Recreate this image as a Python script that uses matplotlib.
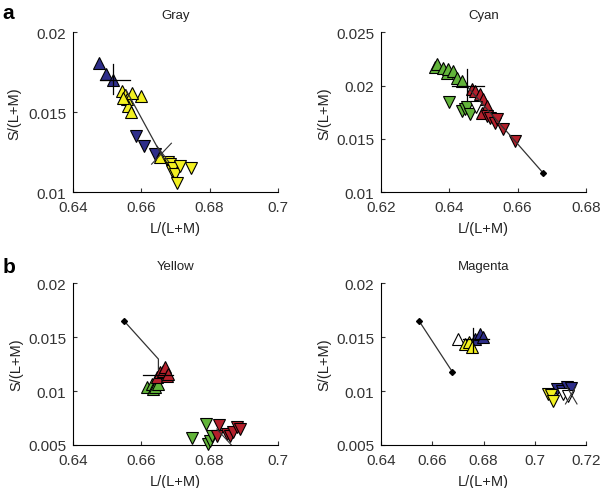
import matplotlib.pyplot as plt
from matplotlib.ticker import FuncFormatter

plt.rcParams['font.family'] = ['Liberation Sans', 'DejaVu Sans']

NAVY = '#2e2e8a'
YELLOW = '#f2f020'
GREEN = '#62b43a'
RED = '#b4202c'

## Gray panel
gray_navy_up_x = [0.6477, 0.6496, 0.6518]
gray_navy_up_y = [0.0181, 0.0174, 0.0170]
gray_navy_dn_x = [0.6584, 0.6609, 0.6640]
gray_navy_dn_y = [0.01352, 0.0129, 0.01238]
gray_yel_up_x = [0.6543, 0.6552, 0.6557, 0.6562, 0.6569, 0.6599, 0.6572, 0.6547, 0.6655]
gray_yel_up_y = [0.01633, 0.0161, 0.0158, 0.01536, 0.0150, 0.0160, 0.01623, 0.0159, 0.0122]
gray_yel_dn_x = [0.6679, 0.6684, 0.6689, 0.6694, 0.6699, 0.6703, 0.6713, 0.6745]
gray_yel_dn_y = [0.01186, 0.01175, 0.01133, 0.01154, 0.01113, 0.0106, 0.01164, 0.01148]
gray_line_x = [0.6555, 0.6665]
gray_line_y = [0.0164, 0.0121]
gray_cross = (0.6518, 0.0170, 0.6479, 0.6567, 0.01613, 0.0180)
gray_diag = [([0.6630, 0.6688], [0.01175, 0.01306]), ([0.6645, 0.6680], [0.01290, 0.01190])]

## Cyan panel
cyan_grn_up_x = [0.6358, 0.6365, 0.6382, 0.6392, 0.6397, 0.6412, 0.6422, 0.6436]
cyan_grn_up_y = [0.0217, 0.0220, 0.02169, 0.02122, 0.02153, 0.02137, 0.02075, 0.02044]
cyan_grn_dn_x = [0.6399, 0.6436, 0.6446, 0.6453, 0.6460]
cyan_grn_dn_y = [0.01847, 0.01763, 0.01778, 0.01803, 0.01731]
cyan_red_up_x = [0.6465, 0.6475, 0.6490, 0.6499, 0.6509, 0.6495]
cyan_red_up_y = [0.01966, 0.01950, 0.01919, 0.01872, 0.01809, 0.01747]
cyan_red_dn_x = [0.6509, 0.6519, 0.6534, 0.6539, 0.6558, 0.6592]
cyan_red_dn_y = [0.01716, 0.0170, 0.01653, 0.01684, 0.01591, 0.01481]
cyan_wht_x = [0.6478]
cyan_wht_y = [0.01800]
cyan_line_x = [0.6451, 0.6675]
cyan_line_y = [0.01996, 0.01178]
cyan_cross = (0.6451, 0.01996, 0.6407, 0.6500, 0.01856, 0.02153)

## Yellow panel
yel_line_x = [0.6549, 0.6650, 0.6650]
yel_line_y = [0.01651, 0.01296, 0.01200]
yel_grn_up_x = [0.6617, 0.6630, 0.6635, 0.6640, 0.6650]
yel_grn_up_y = [0.0104, 0.01065, 0.01019, 0.01034, 0.01065]
yel_red_up_x = [0.6645, 0.6655, 0.6664, 0.6669, 0.6674, 0.6679]
yel_red_up_y = [0.01127, 0.01173, 0.01188, 0.01219, 0.01142, 0.01157]
yel_grn_dn_x = [0.6749, 0.6788, 0.6796, 0.6801, 0.6806]
yel_grn_dn_y = [0.00565, 0.00694, 0.0051, 0.0054, 0.00586]
yel_red_dn_x = [0.6821, 0.6828, 0.6850, 0.6860, 0.6869, 0.6879, 0.6889]
yel_red_dn_y = [0.00586, 0.00688, 0.00602, 0.00586, 0.00617, 0.00664, 0.00648]
yel_hbar = (0.01148, 0.6604, 0.6694)
yel_diag = ([0.6821, 0.6865], [0.00648, 0.00495])

## Magenta panel
mag_line_x = [0.6548, 0.6678]
mag_line_y = [0.01651, 0.01179]
mag_wht_up_x = [0.6702]
mag_wht_up_y = [0.01481]
mag_navy_up_x = [0.6767, 0.6786, 0.6799]
mag_navy_up_y = [0.01481, 0.01528, 0.01497]
mag_yel_up_x = [0.6728, 0.6745, 0.6754]
mag_yel_up_y = [0.01435, 0.01455, 0.01405]
mag_cross = (0.6760, 0.01480, 0.6719, 0.6823, 0.01361, 0.01588)
mag_navy_dn_x = [0.7086, 0.7105, 0.7125, 0.7140]
mag_navy_dn_y = [0.01019, 0.01003, 0.01034, 0.01030]
mag_yel_dn_x = [0.7053, 0.7065, 0.7073]
mag_yel_dn_y = [0.00972, 0.00960, 0.0091]
mag_wht_dn_x = [0.7111, 0.7131]
mag_wht_dn_y = [0.00972, 0.00956]
mag_diag = [([0.7120, 0.7160], [0.00880, 0.01040]), ([0.7125, 0.7165], [0.01040, 0.00880])]

fig = plt.figure(figsize=(6.01, 4.89), dpi=100)
ax_gray = fig.add_axes([0.1215, 0.605, 0.341, 0.327])
ax_cyan = fig.add_axes([0.634, 0.605, 0.341, 0.327])
ax_yel = fig.add_axes([0.1215, 0.088, 0.341, 0.331])
ax_mag = fig.add_axes([0.634, 0.088, 0.341, 0.331])

MS = 8.5


def tri(ax, x, y, up, color):
    ax.plot(x, y, '^' if up else 'v', ms=MS, mfc=color, mec='black', mew=0.8,
            ls='none', clip_on=False, zorder=3)


def cross(ax, c):
    x, y, x0, x1, y0, y1 = c
    ax.plot([x0, x1], [y, y], color='black', lw=0.9, zorder=4)
    ax.plot([x, x], [y0, y1], color='black', lw=0.9, zorder=4)


def style(ax, title, xlim, ylim, xt, yt, ylpad):
    ax.set_xlim(*xlim)
    ax.set_ylim(*ylim)
    ax.set_xticks(xt)
    ax.set_yticks(yt)
    fmt = FuncFormatter(lambda v, p: ('%g' % round(v, 4)))
    ax.xaxis.set_major_formatter(fmt)
    ax.yaxis.set_major_formatter(fmt)
    for s in ['top', 'right']:
        ax.spines[s].set_visible(False)
    for s in ['left', 'bottom']:
        ax.spines[s].set_linewidth(0.8)
    ax.tick_params(direction='in', length=3, labelsize=11, colors='#333333')
    ax.tick_params(axis='x', pad=6)
    ax.tick_params(axis='y', pad=5)
    ax.set_title(title, fontsize=9.5, pad=10, color='#222222')
    ax.set_xlabel('L/(L+M)', fontsize=10.5, labelpad=5, color='#222222')
    ax.set_ylabel('S/(L+M)', fontsize=10.5, labelpad=ylpad, color='#222222')


# Gray
tri(ax_gray, gray_yel_up_x, gray_yel_up_y, True, YELLOW)
tri(ax_gray, gray_yel_dn_x, gray_yel_dn_y, False, YELLOW)
tri(ax_gray, gray_navy_up_x, gray_navy_up_y, True, NAVY)
tri(ax_gray, gray_navy_dn_x, gray_navy_dn_y, False, NAVY)
ax_gray.plot(gray_line_x, gray_line_y, color='#333333', lw=0.9, zorder=4)
cross(ax_gray, gray_cross)
for xs, ys in gray_diag:
    ax_gray.plot(xs, ys, color='#333333', lw=0.8, zorder=4)
style(ax_gray, 'Gray', (0.64, 0.70), (0.01, 0.02), [0.64, 0.66, 0.68, 0.70], [0.01, 0.015, 0.02], 5)

# Cyan
tri(ax_cyan, cyan_grn_up_x, cyan_grn_up_y, True, GREEN)
tri(ax_cyan, cyan_grn_dn_x, cyan_grn_dn_y, False, GREEN)
tri(ax_cyan, cyan_red_up_x, cyan_red_up_y, True, RED)
tri(ax_cyan, cyan_wht_x, cyan_wht_y, False, 'white')
tri(ax_cyan, cyan_red_dn_x, cyan_red_dn_y, False, RED)
ax_cyan.plot(cyan_line_x, cyan_line_y, color='#333333', lw=0.9, zorder=4)
ax_cyan.plot(cyan_line_x[-1:], cyan_line_y[-1:], 'D', ms=3, color='black', zorder=5)
cross(ax_cyan, cyan_cross)
style(ax_cyan, 'Cyan', (0.62, 0.68), (0.01, 0.025), [0.62, 0.64, 0.66, 0.68], [0.01, 0.015, 0.02, 0.025], 3)

# Yellow
tri(ax_yel, yel_grn_up_x, yel_grn_up_y, True, GREEN)
tri(ax_yel, yel_red_up_x, yel_red_up_y, True, RED)
tri(ax_yel, yel_grn_dn_x, yel_grn_dn_y, False, GREEN)
tri(ax_yel, yel_red_dn_x, yel_red_dn_y, False, RED)
ax_yel.plot(yel_line_x, yel_line_y, color='#333333', lw=0.9, zorder=4)
ax_yel.plot(yel_line_x[:1], yel_line_y[:1], 'D', ms=3, color='black', zorder=5)
ax_yel.plot([yel_hbar[1], yel_hbar[2]], [yel_hbar[0]] * 2, color='black', lw=0.9, zorder=4)
ax_yel.plot(*yel_diag, color='#333333', lw=0.8, zorder=4)
style(ax_yel, 'Yellow', (0.64, 0.70), (0.005, 0.02), [0.64, 0.66, 0.68, 0.70], [0.005, 0.01, 0.015, 0.02], 3)

# Magenta
ax_mag.plot(mag_line_x, mag_line_y, color='#333333', lw=0.9, marker='D', ms=3, mfc='black', mec='black', zorder=4)
tri(ax_mag, mag_wht_up_x, mag_wht_up_y, True, 'white')
tri(ax_mag, mag_navy_up_x, mag_navy_up_y, True, NAVY)
tri(ax_mag, mag_yel_up_x, mag_yel_up_y, True, YELLOW)
cross(ax_mag, mag_cross)
tri(ax_mag, mag_navy_dn_x, mag_navy_dn_y, False, NAVY)
tri(ax_mag, mag_yel_dn_x, mag_yel_dn_y, False, YELLOW)
tri(ax_mag, mag_wht_dn_x, mag_wht_dn_y, False, 'white')
for xs, ys in mag_diag:
    ax_mag.plot(xs, ys, color='#333333', lw=0.8, zorder=4)
style(ax_mag, 'Magenta', (0.64, 0.72), (0.005, 0.02), [0.64, 0.66, 0.68, 0.70, 0.72], [0.005, 0.01, 0.015, 0.02], 3)

fig.text(0.004, 0.973, 'a', fontsize=15, fontweight='bold', va='center')
fig.text(0.004, 0.452, 'b', fontsize=15, fontweight='bold', va='center')

fig.savefig('out.png', dpi=100)
